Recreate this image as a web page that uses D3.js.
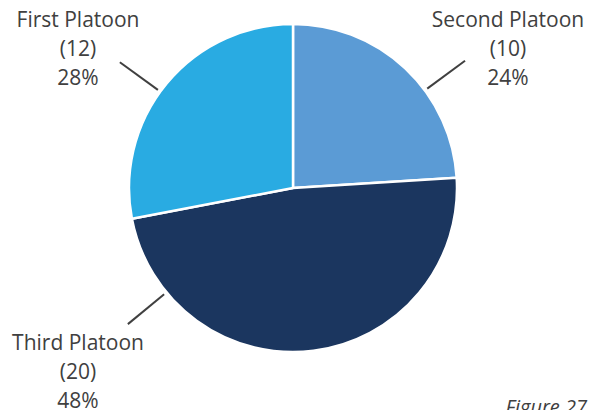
<!DOCTYPE html>
<html>
<head>
<meta charset="utf-8">
<script src="https://cdn.jsdelivr.net/npm/d3@7"></script>
<style>
  html, body { margin: 0; padding: 0; background: #ffffff; }
  svg { display: block; }
  text { font-family: "Open Sans", "Liberation Sans", sans-serif; fill: #404040; }
</style>
</head>
<body>
<svg id="chart" width="595" height="410"></svg>
<script>
// Platoon headcounts and their share of the total
const platoons = ["Second Platoon", "Third Platoon", "First Platoon"];
const counts   = [10, 20, 12];
const shares   = [24, 48, 28];
const colors   = ["#5B9BD5", "#1B365F", "#29ABE2"];

// Layout
const W = 595, H = 410;
const cx = 293, cy = 188, R = 164;
// label block centres and leader-line angles (degrees clockwise from 12 o'clock)
const labelPos   = [[508, 27], [78, 350], [78, 27]];
const leaderDeg  = [53.5, 230.5, 306];
const lineGap = 29;
const fontSize = 21;

const svg = d3.select("#chart");
const g = svg.append("g").attr("transform", `translate(${cx},${cy})`);

const pie = d3.pie().sort(null).value(d => d.share).startAngle(0);
const arc = d3.arc().innerRadius(0).outerRadius(R);

const rows = platoons.map((name, i) => ({
  name, count: counts[i], share: shares[i], color: colors[i],
  label: labelPos[i], leader: leaderDeg[i] * Math.PI / 180
}));

g.selectAll("path.slice")
  .data(pie(rows))
  .join("path")
  .attr("class", "slice")
  .attr("d", arc)
  .attr("fill", d => d.data.color)
  .attr("stroke", "#ffffff")
  .attr("stroke-width", 2.5)
  .attr("stroke-linejoin", "round");

// leader lines
const polar = (a, r) => [Math.sin(a) * r, -Math.cos(a) * r];
g.selectAll("line.leader")
  .data(rows)
  .join("line")
  .attr("class", "leader")
  .attr("x1", d => polar(d.leader, R + 3)[0])
  .attr("y1", d => polar(d.leader, R + 3)[1])
  .attr("x2", d => polar(d.leader, R + 50)[0])
  .attr("y2", d => polar(d.leader, R + 50)[1])
  .attr("stroke", "#404040")
  .attr("stroke-width", 2);

// data labels: name, (count), percent
const labels = svg.selectAll("text.label")
  .data(rows)
  .join("text")
  .attr("class", "label")
  .attr("text-anchor", "middle")
  .attr("font-size", fontSize);

labels.each(function(d) {
  const t = d3.select(this);
  const lines = [d.name, `(${d.count})`, `${d.share}%`];
  lines.forEach((s, k) => {
    t.append("tspan")
      .attr("x", d.label[0])
      .attr("y", d.label[1] + k * lineGap)
      .text(s);
  });
});

// caption
svg.append("text")
  .attr("x", 587)
  .attr("y", 414)
  .attr("text-anchor", "end")
  .attr("font-size", 20)
  .attr("font-style", "italic")
  .text("Figure 27");
</script>
</body>
</html>
